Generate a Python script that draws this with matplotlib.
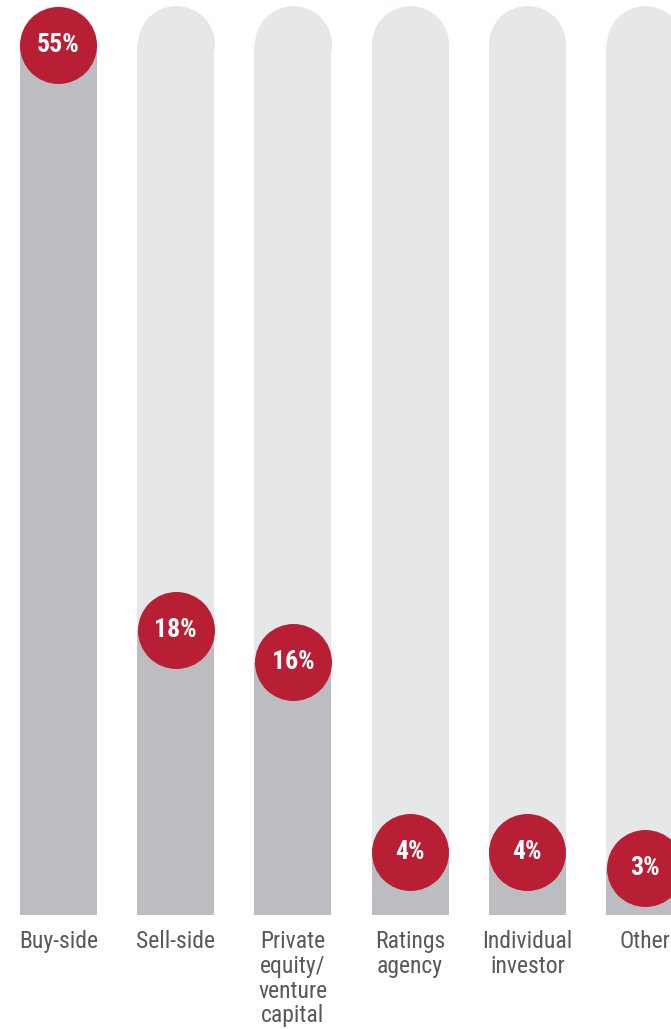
import matplotlib
matplotlib.use('Agg')
import matplotlib.pyplot as plt

# Data
categories = ['Buy-side', 'Sell-side', 'Private\nequity/\nventure\ncapital',
              'Ratings\nagency', 'Individual\ninvestor', 'Other']
shares = [55, 18, 16, 4, 4, 3]
value_labels = ['55%', '18%', '16%', '4%', '4%', '3%']
track_max = 57.46  # top of the light grey "track" behind each bar

RED = '#B81F34'
FILL = '#BCBDC0'
TRACK = '#E6E7E8'
TEXT = '#58595B'

plt.rcParams['font.family'] = ['Roboto Condensed', 'Roboto', 'DejaVu Sans']

W, H, DPI = 671, 1029, 100
fig = plt.figure(figsize=(W / DPI, H / DPI), dpi=DPI)
ax = fig.add_axes([0, 0, 1, 1])

# pixel geometry of the layout -> data limits
x0_px, step_px = 58.5, 117.2
base_px, per_pct_px = 915, 15.82
ax.set_xlim(-x0_px / step_px, (W - x0_px) / step_px)
ax.set_ylim(-(H - base_px) / per_pct_px, base_px / per_pct_px)
ax.axis('off')

bar_w = 77 / step_px
radius = 38.5 / per_pct_px
dot_size = (77 * 72 / DPI) ** 2

xs = list(range(len(shares)))

# light grey tracks with rounded tops
ax.bar(xs, [track_max - radius] * len(xs), width=bar_w, color=TRACK, zorder=1)
ax.scatter(xs, [track_max - radius] * len(xs), s=dot_size, color=TRACK,
           linewidths=0, zorder=1)

# darker fill for the value
ax.bar(xs, shares, width=bar_w, color=FILL, zorder=2)

# red value markers
ax.scatter(xs, shares, s=dot_size, color=RED, linewidths=0, zorder=3)
for x, v, lab in zip(xs, shares, value_labels):
    ax.text(x, v, lab, ha='center', va='center', color='white',
            fontsize=18.5, fontweight='bold', zorder=4)

# category labels
for x, cat in zip(xs, categories):
    ax.text(x, -0.95, cat, ha='center', va='top', color=TEXT,
            fontsize=17, linespacing=1.1)

fig.savefig('out.png', dpi=DPI)
